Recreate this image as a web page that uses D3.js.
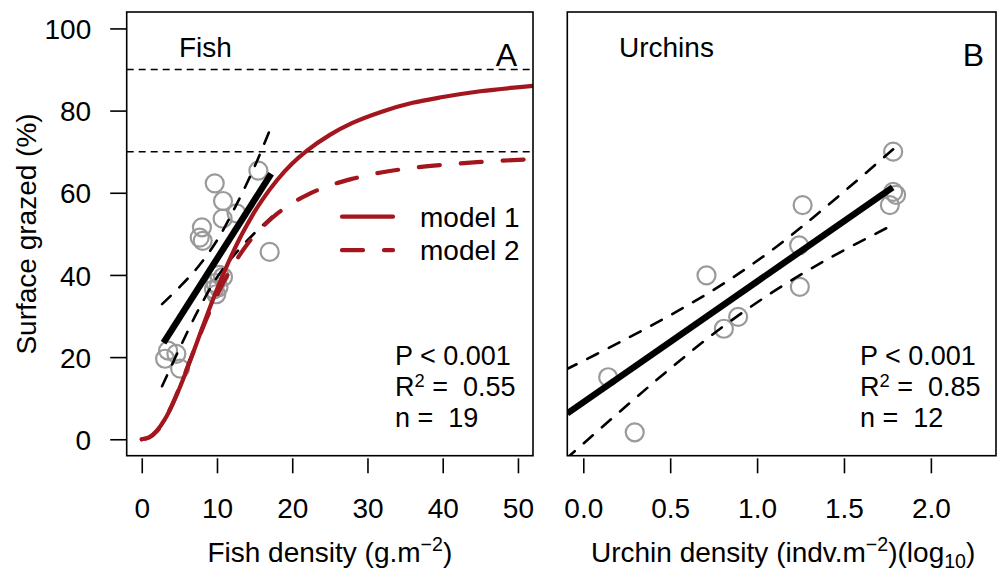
<!DOCTYPE html>
<html><head><meta charset="utf-8">
<script src="https://cdn.jsdelivr.net/npm/d3@7"></script>
<style>
body{margin:0;background:#fff;}
svg text{font-family:"Liberation Sans",Arial,Helvetica,sans-serif;fill:#000;}
</style></head><body><svg id="chart" width="998" height="571"></svg>
<script>
// ---- Panel A: fish density vs surface grazed ----
const fishDensity = [15.5, 9.7, 10.8, 10.75, 12.6, 8.0, 7.7, 8.1, 17.0, 10.3, 10.8, 9.8, 9.6, 9.9, 10.2, 3.1, 3.5, 4.6, 5.1];
const fishGrazed  = [65.4, 62.3, 58.0, 53.7, 55.0, 51.6, 49.1, 48.3, 45.6, 40.0, 39.5, 38.0, 36.5, 35.3, 37.0, 19.6, 21.6, 20.8, 17.2];

// linear fit and its confidence band
const fishFitX = [2.9, 17.2];
const fishFitY = [23.5, 64.6];
const fishBandX    = [2.7, 5, 7.5, 10, 12.5, 15, 17.3];
const fishBandLow  = [12.9, 22.0, 31.4, 39.4, 45.3, 50.2, 54.2];
const fishBandHigh = [32.9, 37.0, 42.0, 48.4, 56.8, 66.4, 76.5];

// saturating models
const modelX  = [0, 1, 2, 3, 4, 5, 6, 7, 8, 9, 10, 11, 12, 13, 14, 15, 16, 18, 20, 22, 25, 28, 32, 36, 40, 45, 52];
const model1Y = [0, 0.49, 2.04, 4.64, 8.15, 12.35, 17.0, 21.9, 26.9, 31.8, 36.5, 40.9, 45.0, 48.8, 52.2, 55.4, 58.2, 63.1, 67.1, 70.3, 74.1, 77.0, 79.8, 81.9, 83.3, 84.7, 86.0];
const model2Y = [0, 0.44, 1.97, 4.62, 8.23, 12.5, 17.2, 21.9, 26.6, 31.0, 35.0, 38.7, 41.9, 44.8, 47.4, 49.7, 51.6, 54.9, 57.5, 59.5, 61.8, 63.4, 65.0, 66.05, 66.8, 67.5, 68.2];
const refLevels = [70, 90];
const modelNames = ["model 1", "model 2"];

// ---- Panel B: urchin density (log10) vs surface grazed ----
const urchinDensity = [1.783, 1.783, 1.764, 1.80, 1.262, 1.242, 1.246, 0.709, 0.891, 0.809, 0.143, 0.296];
const urchinGrazed  = [70.0, 60.2, 57.0, 59.5, 57.0, 47.2, 37.1, 39.9, 29.8, 26.9, 15.1, 1.7];
const urchinFitX = [-0.092, 1.78];
const urchinFitY = [6.3, 61.3];
const urchinBandX    = [-0.1, 0.2, 0.5, 0.8, 1.1, 1.4, 1.8];
const urchinBandLow  = [-4.8, 6.35, 17.2, 27.3, 36.1, 43.7, 52.6];
const urchinBandHigh = [16.96, 23.4, 30.2, 37.7, 46.5, 56.7, 71.2];

// ---- axes ----
const grazedTicks = [0, 20, 40, 60, 80, 100];
const fishTicks   = [0, 10, 20, 30, 40, 50];
const urchinTicks = [0, 0.5, 1.0, 1.5, 2.0];

const FS = 28;      // axis and label text
const FS_STAT = 27; // statistics block
const RED = "#a3161d";
const GREY = "#9a9a9a";

const svg = d3.select("#chart");
const plotTop = 12, plotBottom = 455.7;

const y = d3.scaleLinear().domain([-4, 104]).range([plotBottom, plotTop]);
const xA = d3.scaleLinear().domain([-2, 52]).range([126.7, 533]);
const xB = d3.scaleLinear().domain([-0.092, 2.392]).range([567.3, 999]);

function panel(id, x) {
  const g = svg.append("g");
  const [x0, x1] = x.range();
  svg.append("clipPath").attr("id", id)
    .append("rect").attr("x", x0).attr("y", plotTop).attr("width", x1 - x0).attr("height", plotBottom - plotTop);
  const inner = g.append("g").attr("clip-path", `url(#${id})`);
  return {g, inner, x0, x1};
}

function bandLines(layer, x, xs, lo, hi) {
  const line = d3.line().x(d => x(d[0])).y(d => y(d[1])).curve(d3.curveCatmullRom);
  [lo, hi].forEach(arr => {
    layer.append("path").datum(xs.map((v, i) => [v, arr[i]]))
      .attr("d", line).attr("fill", "none").attr("stroke", "#000")
      .attr("stroke-width", 2.6).attr("stroke-dasharray", "12,12").attr("stroke-linecap", "round");
  });
}

function points(layer, x, xs, ys) {
  layer.selectAll(null).data(xs.map((v, i) => [v, ys[i]])).enter().append("circle")
    .attr("cx", d => x(d[0])).attr("cy", d => y(d[1])).attr("r", 9)
    .attr("fill", "none").attr("stroke", GREY).attr("stroke-width", 2.2);
}

function fitLine(layer, x, xs, ys) {
  layer.append("path").datum(xs.map((v, i) => [v, ys[i]]))
    .attr("d", d3.line().x(d => x(d[0])).y(d => y(d[1])))
    .attr("stroke", "#000").attr("stroke-width", 6.5).attr("fill", "none");
}

function xAxis(p, x, ticks, fmt) {
  const ax = d3.axisBottom(x).tickValues(ticks).tickFormat(fmt).tickSize(15);
  const a = p.g.append("g").attr("transform", `translate(0,${plotBottom + 2.6})`).call(ax);
  a.select(".domain").remove();
  a.selectAll(".tick line").attr("stroke", "#000").attr("stroke-width", 1.6);
  a.selectAll(".tick text").attr("font-size", FS).attr("font-family", null).attr("dy", null)
    .attr("y", 60).attr("fill", "#000");
}

// ===== Panel A =====
const A = panel("clipA", xA);
refLevels.forEach(v => {
  A.inner.append("line").attr("x1", A.x0).attr("x2", A.x1).attr("y1", y(v)).attr("y2", y(v))
    .attr("stroke", "#000").attr("stroke-width", 1.5).attr("stroke-dasharray", "7,5");
});
points(A.inner, xA, fishDensity, fishGrazed);
bandLines(A.inner, xA, fishBandX, fishBandLow, fishBandHigh);
fitLine(A.inner, xA, fishFitX, fishFitY);
const mLine = d3.line().x((d, i) => xA(modelX[i])).y(d => y(d)).curve(d3.curveMonotoneX);
A.inner.append("path").datum(model1Y).attr("d", mLine).attr("fill", "none")
  .attr("stroke", RED).attr("stroke-width", 4.2).attr("stroke-linecap", "round");
A.inner.append("path").datum(model2Y).attr("d", mLine).attr("fill", "none")
  .attr("stroke", RED).attr("stroke-width", 4.2).attr("stroke-dasharray", "21,21").attr("stroke-linecap", "round");

// legend
modelNames.forEach((name, i) => {
  const ly = 216.7 + i * 33.5;
  A.g.append("line").attr("x1", 342).attr("x2", 393).attr("y1", ly).attr("y2", ly)
    .attr("stroke", RED).attr("stroke-width", 4.2).attr("stroke-linecap", "round")
    .attr("stroke-dasharray", i ? "21,21" : null);
  A.g.append("text").attr("x", 420).attr("y", ly + 10).attr("font-size", FS).text(name);
});

A.g.append("rect").attr("x", A.x0).attr("y", plotTop).attr("width", A.x1 - A.x0).attr("height", plotBottom - plotTop)
  .attr("fill", "none").attr("stroke", "#000").attr("stroke-width", 1.6);

// y axis (left panel only)
const ay = d3.axisLeft(y).tickValues(grazedTicks).tickSize(16.5).tickPadding(19);
const ayg = A.g.append("g").attr("transform", `translate(${A.x0},0)`).call(ay);
ayg.select(".domain").remove();
ayg.selectAll(".tick line").attr("stroke", "#000").attr("stroke-width", 1.6);
ayg.selectAll(".tick text").attr("font-size", FS).attr("font-family", null).attr("fill", "#000").attr("dy", "0.36em");

xAxis(A, xA, fishTicks, d3.format("d"));

// ===== Panel B =====
const B = panel("clipB", xB);
points(B.inner, xB, urchinDensity, urchinGrazed);
bandLines(B.inner, xB, urchinBandX, urchinBandLow, urchinBandHigh);
fitLine(B.inner, xB, urchinFitX, urchinFitY);
B.g.append("rect").attr("x", B.x0).attr("y", plotTop).attr("width", 996 - B.x0).attr("height", plotBottom - plotTop)
  .attr("fill", "none").attr("stroke", "#000").attr("stroke-width", 1.6);
xAxis(B, xB, urchinTicks, d3.format(".1f"));

// ===== text =====
function stats(g, xLeft, r2, n) {
  g.append("text").attr("x", xLeft).attr("y", 364.5).attr("font-size", FS_STAT).text("P < 0.001");
  const t = g.append("text").attr("x", xLeft).attr("y", 396).attr("font-size", FS_STAT).style("white-space", "pre");
  t.append("tspan").text("R");
  t.append("tspan").attr("font-size", FS_STAT * 0.68).attr("dy", -9).text("2");
  t.append("tspan").attr("dy", 9).text(" =  " + r2);
  g.append("text").attr("x", xLeft).attr("y", 426.8).attr("font-size", FS_STAT).style("white-space", "pre").text("n =  " + n);
}
stats(A.g, 395, "0.55", 19);
stats(B.g, 860, "0.85", 12);

svg.append("text").attr("x", 179).attr("y", 57).attr("font-size", FS).text("Fish");
svg.append("text").attr("x", 619).attr("y", 57).attr("font-size", FS).text("Urchins");
svg.append("text").attr("x", 517).attr("y", 66).attr("font-size", 32).attr("text-anchor", "end").text("A");
svg.append("text").attr("x", 984).attr("y", 66).attr("font-size", 32).attr("text-anchor", "end").text("B");

// y title
svg.append("text").attr("transform", "translate(36,234) rotate(-90)").attr("text-anchor", "middle")
  .attr("font-size", FS).text("Surface grazed (%)");

// x titles with super/subscripts
const tA = svg.append("text").attr("x", (A.x0 + A.x1) / 2).attr("y", 562).attr("text-anchor", "middle").attr("font-size", FS);
tA.append("tspan").text("Fish density (g.m");
tA.append("tspan").attr("font-size", FS * 0.7).attr("dy", -11).text("\u22122");
tA.append("tspan").attr("dy", 11).text(")");

const tB = svg.append("text").attr("x", (B.x0 + B.x1) / 2).attr("y", 562).attr("text-anchor", "middle").attr("font-size", FS);
tB.append("tspan").text("Urchin density (indv.m");
tB.append("tspan").attr("font-size", FS * 0.7).attr("dy", -11).text("\u22122");
tB.append("tspan").attr("dy", 11).text(")(log");
tB.append("tspan").attr("font-size", FS * 0.7).attr("dy", 6).text("10");
tB.append("tspan").attr("dy", -6).text(")");
</script></body></html>
